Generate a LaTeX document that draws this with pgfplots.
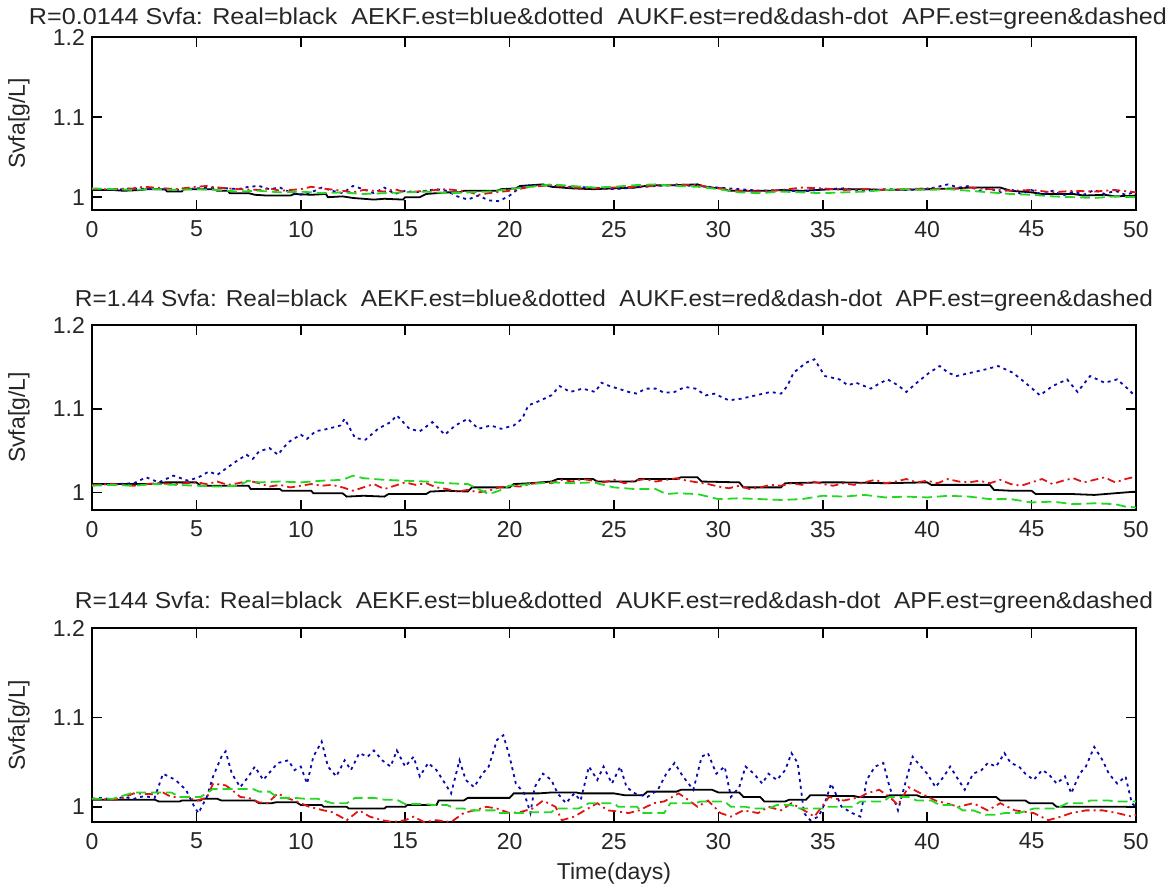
\documentclass[border=0pt]{standalone}
\usepackage{fontspec}
\setmainfont{Liberation Sans}
\usepackage{pgfplots}
\pgfplotsset{compat=1.18}

\definecolor{realc}{RGB}{0,0,0}
\definecolor{ekfc}{RGB}{10,10,175}
\definecolor{ukfc}{RGB}{225,20,20}
\definecolor{pfc}{RGB}{35,215,35}

\pgfplotsset{
  svfa/.style={
    scale only axis, width=522pt,
    xmin=0, xmax=50, ymax=1.2,
    xtick={0,5,...,50}, ytick={1,1.1,1.2},
    tick align=inside, major tick length=5pt,
    axis line style={line width=0.8pt},
    every tick/.style={line width=0.8pt, black},
    tick label style={font=\fontsize{11.5}{13}\selectfont, text=black!85},
    xticklabel style={yshift=-2pt},
    /pgf/number format/assume math mode=true,
    ylabel={Svfa[g/L]},
    ylabel style={at={(axis description cs:-0.07,0.5)}, anchor=center,
      font=\fontsize{11.5}{13}\selectfont, text=black!85},
    anchor=north west,
  },
  % title placed by its base line, a given distance above the box
  svfatitle/.style 2 args={
    every axis title/.style={at={(axis description cs:#1,1)}, anchor=base,
      yshift=#2, font=\fontsize{11.5}{13}\selectfont, text=black!85},
  },
  real/.style={realc, line width=0.9pt},
  aekf/.style={ekfc, line width=0.9pt, dash pattern=on 1.5pt off 2pt},
  aukf/.style={ukfc, line width=0.9pt, dash pattern=on 4pt off 2pt on 1pt off 2pt},
  apf/.style={pfc, line width=0.9pt, dash pattern=on 5pt off 2.5pt},
}

\begin{document}
\begin{tikzpicture}
\useasboundingbox (0,0) rectangle (587pt,-446pt);

% ---------------- R = 0.0144 ----------------
\begin{axis}[svfa, at={(46pt,-18.5pt)}, height=86.5pt, ymin=0.984,
  svfatitle={0.4847}{6pt},
  title={\resizebox{569pt}{\height}{R=0.0144 Svfa: Real=black\ \ AEKF.est=blue\&dotted\ \ AUKF.est=red\&dash-dot\ \ APF.est=green\&dashed}}]
\addplot[real] coordinates {
(0,1.009) (1,1.009) (1.5,1.008) (2.4,1.009) (2.6,1.010) (3.5,1.010) (3.6,1.007) (4.3,1.007) (4.4,1.010) (5.8,1.010) (6,1.008) (6.5,1.008) (6.6,1.005) (7.5,1.005) (7.8,1.003) (8.4,1.002) (9.5,1.002) (9.7,1.004) (10.5,1.003) (11.2,1.004) (11.3,1.000) (12,1.001) (12.5,0.999) (13,0.998) (13.5,0.997) (14,0.998) (14.9,0.997) (15,1.000) (15.7,1.000) (16,1.004) (17,1.006) (17.6,1.006) (17.8,1.008) (19.4,1.008) (19.6,1.010) (20.3,1.011) (20.5,1.014) (21.6,1.016) (22,1.013) (23,1.011) (24,1.010) (25,1.011) (26,1.012) (26.5,1.014) (27,1.015) (28,1.015) (29,1.016) (29.5,1.012) (30.2,1.011) (30.5,1.008) (32.6,1.008) (33,1.009) (34,1.008) (35.5,1.010) (37,1.010) (38,1.009) (40,1.010) (41.5,1.011) (42,1.012) (43.5,1.012) (44,1.008) (45,1.006) (45.5,1.004) (47,1.004) (47.5,1.002) (48.5,1.003) (49,1.001) (50,1.002)
};
\addplot[aekf] coordinates {
(0,1.010) (1,1.009) (2,1.011) (3,1.010) (4,1.009) (5,1.011) (6,1.012) (7,1.010) (7.5,1.013) (8,1.014) (8.5,1.010) (9,1.012) (9.5,1.006) (10,1.003) (10.5,1.006) (11,1.012) (11.5,1.008) (12,1.005) (12.5,1.014) (13,1.010) (13.5,1.005) (14,1.012) (14.5,1.004) (15,1.008) (15.5,1.006) (16,1.008) (16.5,1.010) (17,1.008) (17.5,1.001) (18,0.997) (18.5,1.002) (19,0.996) (19.5,0.995) (20,1.002) (20.5,1.012) (21,1.015) (22,1.014) (23,1.013) (24,1.012) (25,1.010) (26,1.012) (27,1.014) (28,1.015) (29,1.014) (30,1.012) (31,1.010) (32,1.008) (33,1.009) (34,1.007) (35,1.010) (36,1.011) (37,1.008) (38,1.010) (39,1.009) (40,1.010) (40.5,1.013) (41,1.016) (41.5,1.012) (42,1.014) (42.5,1.008) (43,1.011) (43.5,1.006) (44,1.010) (44.5,1.004) (45,1.009) (45.5,1.003) (46,1.008) (46.5,1.002) (47,1.007) (47.5,1.003) (48,1.009) (48.5,1.004) (49,1.008) (49.5,1.003) (50,1.007)
};
\addplot[aukf] coordinates {
(0,1.010) (1,1.010) (2,1.011) (2.5,1.013) (3,1.012) (4,1.010) (5,1.013) (5.5,1.014) (6,1.012) (7,1.010) (8,1.009) (8.5,1.011) (9,1.008) (10,1.010) (10.5,1.013) (11,1.011) (12,1.008) (12.5,1.006) (13,1.009) (14,1.007) (14.5,1.010) (15,1.006) (16,1.008) (17,1.010) (18,1.007) (18.5,1.003) (19,1.005) (20,1.008) (21,1.013) (22,1.015) (23,1.012) (24,1.011) (25,1.012) (26,1.013) (27,1.014) (28,1.016) (29,1.015) (30,1.011) (31,1.008) (32,1.007) (33,1.009) (34,1.012) (35,1.011) (36,1.009) (37,1.010) (38,1.009) (39,1.010) (40,1.011) (41,1.010) (42,1.012) (43,1.010) (44,1.008) (45,1.009) (46,1.006) (47,1.008) (48,1.007) (49,1.009) (50,1.006)
};
\addplot[apf] coordinates {
(0,1.011) (1,1.010) (2,1.009) (3,1.010) (4,1.009) (5,1.010) (6,1.009) (7,1.007) (8,1.008) (9,1.006) (10,1.007) (11,1.005) (12,1.006) (13,1.004) (14,1.005) (15,1.006) (16,1.007) (17,1.005) (18,1.006) (19,1.007) (20,1.010) (21,1.013) (22,1.016) (23,1.014) (24,1.012) (25,1.013) (26,1.015) (27,1.016) (28,1.014) (29,1.013) (30,1.010) (31,1.006) (32,1.005) (33,1.007) (34,1.006) (35,1.005) (36,1.006) (37,1.007) (38,1.009) (39,1.010) (40,1.009) (41,1.010) (42,1.008) (43,1.006) (44,1.004) (45,1.003) (46,1.001) (47,1.000) (48,0.999) (49,1.001) (50,1.000)
};
\end{axis}

% ---------------- R = 1.44 ----------------
\begin{axis}[svfa, at={(46pt,-162.5pt)}, height=92.5pt, ymin=0.979,
  svfatitle={0.5}{9pt},
  title={\resizebox{539pt}{\height}{R=1.44 Svfa: Real=black\ \ AEKF.est=blue\&dotted\ \ AUKF.est=red\&dash-dot\ \ APF.est=green\&dashed}}]
\addplot[real] coordinates {
(0,1.010) (3,1.010) (3.5,1.012) (5,1.012) (5.2,1.008) (7.5,1.008) (7.6,1.004) (9,1.004) (9.1,1.002) (10.5,1.002) (10.6,0.999) (12,0.999) (12.2,0.995) (13,0.996) (14,0.995) (14.2,0.998) (16,0.998) (16.2,1.001) (17,1.002) (18,1.001) (18.2,1.006) (20,1.006) (20.2,1.010) (21,1.011) (22,1.013) (22.3,1.016) (24,1.016) (24.2,1.013) (26,1.013) (26.2,1.016) (28,1.016) (28.2,1.018) (29,1.018) (29.2,1.013) (31,1.012) (31.2,1.006) (33,1.006) (33.2,1.011) (35,1.012) (36,1.012) (38,1.011) (40,1.012) (40.2,1.009) (43,1.009) (43.2,1.003) (44,1.002) (45,1.002) (45.2,0.998) (47,0.998) (48,0.997) (49,0.999) (50,1.001)
};
\addplot[aekf] coordinates {
(0,1.009) (1,1.010) (2,1.011) (2.6,1.018) (3.2,1.012) (3.9,1.020) (4.6,1.014) (5.1,1.018) (5.6,1.025) (6.0,1.021) (6.5,1.030) (6.9,1.037) (7.4,1.045) (7.7,1.040) (8.0,1.049) (8.5,1.053) (8.9,1.045) (9.4,1.060) (10.0,1.069) (10.3,1.064) (10.7,1.073) (11.3,1.076) (11.9,1.080) (12.1,1.088) (12.6,1.065) (13.1,1.063) (13.7,1.076) (14.3,1.084) (14.6,1.092) (15.2,1.076) (15.7,1.073) (16.3,1.084) (16.9,1.069) (17.4,1.080) (18.0,1.088) (18.5,1.076) (19.1,1.080) (19.6,1.076) (20.2,1.080) (20.6,1.088) (20.9,1.104) (21.5,1.110) (22.0,1.116) (22.4,1.127) (22.9,1.120) (23.5,1.124) (24.1,1.120) (24.4,1.131) (24.8,1.127) (25.2,1.124) (25.7,1.120) (26.1,1.118) (26.5,1.124) (27.0,1.124) (27.4,1.119) (27.9,1.120) (28.4,1.126) (28.9,1.124) (29.4,1.116) (29.8,1.118) (30.5,1.110) (31.1,1.112) (31.8,1.116) (32.5,1.120) (33.0,1.118) (33.3,1.127) (33.6,1.143) (34.2,1.155) (34.6,1.159) (35.1,1.139) (35.8,1.135) (36.2,1.128) (36.6,1.131) (37.3,1.124) (37.7,1.130) (38.1,1.135) (38.6,1.128) (39.0,1.120) (39.5,1.131) (40.1,1.143) (40.6,1.151) (41.0,1.143) (41.4,1.139) (42.1,1.143) (42.8,1.147) (43.4,1.151) (44.1,1.143) (44.7,1.131) (45.4,1.116) (46.0,1.127) (46.7,1.135) (47.2,1.120) (47.8,1.139) (48.5,1.131) (49.1,1.135) (49.6,1.124) (50.0,1.114)
};
\addplot[aukf] coordinates {
(0,1.009) (1,1.010) (2,1.008) (3,1.011) (4,1.010) (5,1.012) (5.5,1.010) (6,1.013) (6.5,1.009) (7,1.011) (7.5,1.014) (8,1.011) (8.5,1.007) (9,1.009) (9.5,1.006) (10,1.008) (10.5,1.010) (11,1.008) (11.5,1.009) (12,1.006) (12.5,1.002) (13,1.006) (13.5,1.010) (14,1.004) (14.5,1.008) (15,1.012) (15.5,1.009) (16,1.011) (16.5,1.006) (17,1.004) (17.5,1.001) (18,1.003) (18.5,1.000) (19,1.002) (19.5,1.006) (20,1.008) (20.5,1.007) (21,1.010) (21.5,1.012) (22,1.011) (22.5,1.015) (23,1.013) (23.5,1.016) (24,1.014) (24.5,1.012) (25,1.015) (25.5,1.011) (26,1.014) (26.5,1.016) (27,1.013) (27.5,1.015) (28,1.017) (28.5,1.014) (29,1.012) (29.5,1.010) (30,1.007) (30.5,1.005) (31,1.008) (31.5,1.004) (32,1.006) (32.5,1.009) (33,1.008) (33.5,1.011) (34,1.009) (34.5,1.013) (35,1.010) (35.5,1.008) (36,1.011) (36.5,1.009) (37,1.012) (37.5,1.015) (38,1.011) (38.5,1.013) (39,1.016) (39.5,1.012) (40,1.014) (40.5,1.011) (41,1.016) (41.5,1.013) (42,1.012) (42.5,1.014) (43,1.011) (43.5,1.015) (44,1.010) (44.5,1.008) (45,1.012) (45.5,1.016) (46,1.010) (46.5,1.014) (47,1.017) (47.5,1.012) (48,1.015) (48.5,1.018) (49,1.012) (49.5,1.016) (50,1.019)
};
\addplot[apf] coordinates {
(0,1.008) (1,1.009) (2,1.008) (3,1.010) (4,1.009) (5,1.008) (6,1.007) (7,1.008) (7.5,1.014) (8,1.012) (9,1.013) (10,1.012) (11,1.014) (12,1.015) (12.5,1.020) (13,1.017) (14,1.015) (15,1.014) (16,1.013) (17,1.011) (18,1.010) (18.5,1.004) (19,0.998) (19.5,1.002) (20,1.008) (21,1.010) (22,1.012) (23,1.011) (24,1.012) (25,1.006) (26,1.004) (27,1.004) (27.5,0.998) (28,0.999) (29,0.998) (30,0.992) (31,0.993) (32,0.992) (33,0.991) (34,0.992) (35,0.996) (36,0.995) (37,0.997) (38,0.994) (39,0.995) (40,0.994) (41,0.996) (42,0.995) (43,0.992) (44,0.992) (45,0.988) (46,0.989) (47,0.986) (48,0.987) (49,0.986) (49.5,0.983) (50,0.982)
};
\end{axis}

% ---------------- R = 144 ----------------
\begin{axis}[svfa, at={(46pt,-314pt)}, height=97pt, ymin=0.983,
  xlabel={Time(days)},
  xlabel style={font=\fontsize{11.5}{13}\selectfont, text=black!85},
  svfatitle={0.5}{9.5pt},
  title={\resizebox{539pt}{\height}{R=144 Svfa: Real=black\ \ AEKF.est=blue\&dotted\ \ AUKF.est=red\&dash-dot\ \ APF.est=green\&dashed}}]
\addplot[real] coordinates {
(0,1.008) (3,1.008) (3.2,1.006) (4.2,1.006) (4.3,1.007) (5.2,1.007) (5.3,1.009) (6,1.009) (6.2,1.007) (7.8,1.007) (8,1.004) (8.6,1.004) (8.8,1.005) (9.8,1.005) (10,1.002) (11,1.002) (11.1,1.000) (12.2,1.000) (12.3,0.998) (14,0.998) (14.1,1.000) (15,1.000) (15.1,1.002) (16.5,1.002) (16.6,1.007) (17.8,1.007) (18,1.010) (20,1.010) (20.2,1.015) (21.4,1.015) (22,1.016) (23.2,1.016) (23.4,1.015) (25,1.015) (25.5,1.013) (26.4,1.013) (26.6,1.017) (28,1.017) (28.2,1.019) (29.7,1.019) (30,1.016) (31,1.016) (31.2,1.011) (32,1.011) (32.2,1.006) (33.2,1.006) (33.4,1.008) (34.2,1.008) (34.4,1.013) (35.1,1.013) (35.3,1.012) (36.5,1.012) (36.7,1.011) (38,1.011) (38.2,1.013) (39.5,1.013) (39.7,1.011) (43.3,1.011) (43.5,1.007) (44.7,1.007) (44.9,1.004) (46,1.004) (46.2,1.000) (50,1.000)
};
\addplot[aekf] coordinates {
(0,1.009) (0.5,1.010) (1,1.008) (1.5,1.011) (2,1.009) (2.5,1.012) (3,1.010) (3.4,1.037) (4.0,1.030) (4.5,1.019) (4.9,1.000) (5.1,0.993) (5.5,1.011) (5.8,1.034) (6.2,1.056) (6.4,1.062) (6.7,1.037) (7.1,1.022) (7.5,1.034) (7.8,1.045) (8.2,1.030) (8.6,1.041) (8.9,1.049) (9.4,1.052) (9.7,1.041) (10.0,1.045) (10.3,1.026) (10.6,1.056) (11.0,1.073) (11.3,1.045) (11.7,1.034) (12.1,1.052) (12.4,1.041) (12.8,1.060) (13.2,1.056) (13.5,1.063) (13.9,1.052) (14.3,1.045) (14.6,1.063) (15.0,1.045) (15.4,1.056) (15.7,1.034) (16.1,1.049) (16.5,1.041) (16.8,1.030) (17.2,1.015) (17.6,1.052) (17.9,1.030) (18.3,1.022) (18.7,1.037) (19.0,1.045) (19.4,1.075) (19.7,1.080) (20.0,1.056) (20.3,1.026) (20.7,1.015) (21.0,0.993) (21.2,1.022) (21.6,1.037) (22.0,1.030) (22.3,1.015) (22.7,1.004) (23.1,1.015) (23.4,1.007) (23.8,1.045) (24.2,1.030) (24.5,1.045) (24.9,1.026) (25.3,1.045) (25.6,1.022) (26.0,1.015) (26.6,1.011) (27.1,1.019) (27.5,1.037) (27.9,1.049) (28.3,1.034) (28.8,1.019) (29.2,1.056) (29.5,1.060) (29.9,1.037) (30.3,1.045) (30.6,1.011) (31.0,1.022) (31.3,1.045) (31.7,1.037) (32.1,1.026) (32.4,1.037) (32.8,1.030) (33.2,1.041) (33.5,1.060) (33.8,1.049) (34.1,0.993) (34.4,0.985) (34.8,0.989) (35.1,1.004) (35.4,1.026) (35.9,1.000) (36.4,0.993) (36.8,0.989) (37.1,1.030) (37.5,1.045) (37.9,1.049) (38.2,1.022) (38.6,0.996) (38.9,1.022) (39.3,1.056) (39.7,1.045) (40.0,1.037) (40.4,1.022) (40.8,1.034) (41.1,1.045) (41.5,1.030) (41.8,1.019) (42.2,1.037) (42.6,1.041) (42.9,1.049) (43.3,1.045) (43.7,1.060) (44.0,1.049) (44.4,1.045) (44.7,1.037) (45.1,1.030) (45.5,1.041) (45.8,1.037) (46.2,1.026) (46.6,1.034) (46.9,1.015) (47.3,1.037) (47.6,1.045) (48.0,1.067) (48.4,1.052) (48.7,1.037) (49.1,1.026) (49.5,1.034) (49.8,1.004) (50.0,1.000)
};
\addplot[aukf] coordinates {
(0,1.009) (1,1.008) (1.5,1.010) (2,1.015) (3,1.014) (3.4,1.016) (3.8,1.011) (4.5,1.011) (5,1.007) (5.5,1.010) (5.8,1.026) (6.4,1.024) (6.7,1.019) (7.1,1.011) (7.5,1.010) (8,1.005) (8.4,1.004) (8.9,1.015) (9.3,1.010) (9.7,1.007) (10.4,1.000) (11.1,0.996) (11.5,0.994) (11.9,0.989) (12.2,0.985) (12.8,0.996) (13.3,0.989) (13.9,0.985) (14.4,0.983) (15,0.985) (15.4,0.989) (15.9,0.983) (16.5,0.985) (17.2,0.983) (17.8,0.993) (18.3,0.996) (18.9,1.000) (19.4,0.998) (20,0.993) (20.5,0.994) (21.1,0.998) (21.6,1.007) (22.2,1.000) (22.5,0.985) (23.1,0.989) (23.6,0.996) (24.2,1.004) (24.7,0.996) (25.1,0.995) (25.7,0.993) (26.2,0.996) (26.9,1.004) (27.4,1.006) (28.1,1.015) (28.6,1.007) (29,1.000) (29.5,1.007) (30.1,0.993) (30.6,0.989) (31.2,0.996) (31.9,0.993) (32.4,1.000) (33,0.996) (33.5,1.004) (34.1,0.996) (34.6,0.989) (35.3,1.011) (36,1.007) (36.8,1.011) (37.1,1.015) (37.7,1.019) (38.2,1.011) (38.6,1.002) (39.1,1.022) (39.7,1.015) (40.4,1.007) (40.9,1.004) (41.5,1.000) (42.2,1.004) (42.9,0.996) (43.5,1.004) (44.2,0.996) (45.1,0.993) (45.8,0.985) (46.4,0.989) (46.9,0.993) (47.6,0.996) (48.4,0.996) (49.1,0.993) (49.8,0.989) (50,0.991)
};
\addplot[apf] coordinates {
(0,1.009) (1,1.009) (2,1.016) (3,1.016) (3.8,1.016) (4.2,1.011) (5.2,1.011) (5.8,1.020) (6.5,1.020) (7.7,1.020) (8,1.017) (8.5,1.017) (8.9,1.010) (9.7,1.010) (10.2,1.009) (10.8,1.009) (11.5,1.004) (12.2,1.004) (12.6,1.010) (13.5,1.010) (14,1.008) (14.6,1.008) (15,1.003) (16,1.003) (16.3,1.002) (17,1.002) (17.4,0.998) (17.8,0.998) (18.1,0.996) (19.3,0.996) (19.4,0.993) (20.7,0.993) (21,0.994) (22,0.994) (22.2,0.998) (23.3,0.998) (23.8,1.004) (25,1.004) (25.2,1.000) (26.1,1.000) (26.4,0.993) (27.4,0.993) (27.7,1.004) (28.8,1.004) (29.2,1.006) (30.3,1.006) (30.6,1.000) (31.3,1.000) (31.7,0.998) (32.4,0.998) (32.8,1.002) (33.5,1.002) (33.9,0.998) (35,0.998) (35.1,1.000) (36.4,1.000) (36.8,1.006) (37.9,1.006) (38.2,1.011) (39.1,1.011) (39.5,1.007) (40.2,1.007) (40.6,1.002) (41.3,1.002) (41.7,0.996) (42.2,0.996) (42.8,0.991) (43.3,0.991) (43.7,0.993) (44.4,0.993) (45.1,0.998) (46.2,0.998) (46.7,1.004) (47.5,1.004) (47.8,1.007) (48.7,1.007) (49.1,1.006) (50,1.006)
};
\end{axis}
\end{tikzpicture}
\end{document}
